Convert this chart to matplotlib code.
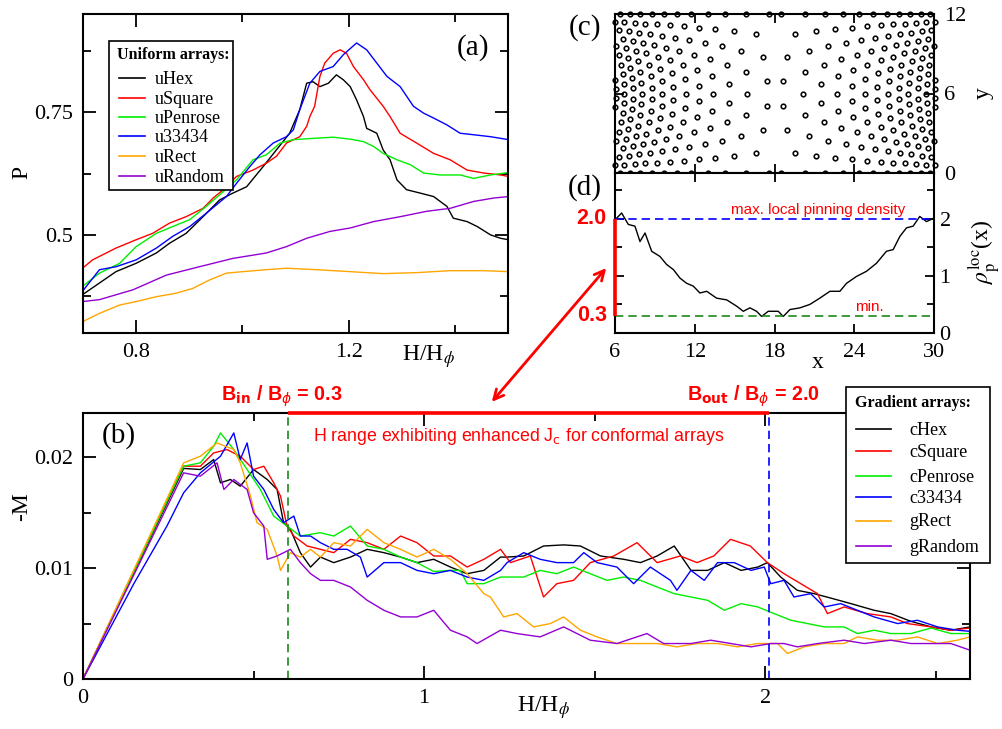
import numpy as np
import matplotlib
matplotlib.use('Agg')
import matplotlib.pyplot as plt
from matplotlib.patches import Rectangle
from matplotlib.ticker import MultipleLocator, FuncFormatter

# ---------------- data ----------------
uHex_H = [0.699,0.762,0.8,0.838,0.863,0.894,0.926,0.957,0.982,1.008,1.039,1.064,1.089,1.108,1.121,1.133,1.146,1.162,1.177,1.190,1.203,1.215,1.228,1.234,1.253,1.265,1.278,1.291,1.309,1.335,1.360,1.385,1.397,1.423,1.442,1.467,1.486,1.501]
uHex_P = [0.378,0.425,0.442,0.463,0.483,0.503,0.537,0.571,0.585,0.598,0.639,0.673,0.707,0.755,0.809,0.812,0.802,0.809,0.826,0.816,0.802,0.775,0.741,0.717,0.707,0.673,0.653,0.612,0.592,0.585,0.578,0.558,0.534,0.527,0.517,0.500,0.493,0.490]
uSquare_H = [0.699,0.718,0.762,0.8,0.831,0.863,0.894,0.926,0.945,0.964,0.989,1.020,1.045,1.064,1.083,1.108,1.121,1.127,1.136,1.146,1.155,1.171,1.184,1.196,1.209,1.228,1.240,1.265,1.278,1.297,1.328,1.360,1.391,1.423,1.454,1.486,1.501]
uSquare_P = [0.432,0.449,0.473,0.490,0.503,0.524,0.537,0.554,0.575,0.592,0.619,0.632,0.646,0.660,0.687,0.700,0.721,0.741,0.762,0.823,0.850,0.870,0.877,0.870,0.843,0.816,0.796,0.762,0.741,0.707,0.687,0.666,0.653,0.632,0.626,0.622,0.619]
uPenrose_H = [0.699,0.731,0.769,0.8,0.838,0.869,0.901,0.932,0.964,0.989,1.020,1.045,1.071,1.096,1.140,1.171,1.203,1.228,1.247,1.265,1.291,1.316,1.341,1.372,1.410,1.435,1.467,1.501]
uPenrose_P = [0.395,0.422,0.442,0.476,0.503,0.517,0.531,0.558,0.588,0.612,0.653,0.663,0.687,0.694,0.697,0.699,0.695,0.690,0.680,0.666,0.653,0.643,0.626,0.622,0.622,0.615,0.622,0.627]
u33434_H = [0.699,0.731,0.762,0.8,0.838,0.869,0.901,0.932,0.970,0.989,1.014,1.033,1.058,1.083,1.096,1.108,1.127,1.146,1.171,1.190,1.215,1.234,1.253,1.272,1.297,1.322,1.341,1.360,1.385,1.410,1.435,1.467,1.501]
u33434_P = [0.385,0.429,0.435,0.449,0.473,0.497,0.517,0.544,0.578,0.605,0.639,0.663,0.687,0.700,0.714,0.755,0.809,0.833,0.843,0.867,0.891,0.877,0.850,0.823,0.802,0.762,0.748,0.738,0.724,0.707,0.704,0.700,0.694]
uRect_H = [0.699,0.731,0.769,0.8,0.838,0.875,0.907,0.938,0.970,1.001,1.045,1.083,1.140,1.203,1.265,1.328,1.391,1.454,1.501]
uRect_P = [0.323,0.340,0.357,0.364,0.374,0.381,0.391,0.408,0.422,0.425,0.429,0.432,0.429,0.425,0.421,0.423,0.427,0.427,0.425]
uRandom_H = [0.699,0.731,0.794,0.857,0.919,0.982,1.045,1.083,1.121,1.165,1.203,1.247,1.297,1.347,1.391,1.435,1.473,1.501]
uRandom_P = [0.364,0.368,0.388,0.418,0.435,0.452,0.463,0.476,0.493,0.507,0.514,0.527,0.537,0.548,0.554,0.568,0.575,0.578]

cHex_H = [0,0.295,0.344,0.383,0.403,0.432,0.461,0.5,0.540,0.569,0.588,0.608,0.637,0.667,0.696,0.735,0.784,0.833,0.882,0.931,0.979,1.028,1.077,1.126,1.175,1.224,1.243,1.292,1.350,1.409,1.458,1.517,1.585,1.634,1.683,1.733,1.782,1.831,1.880,1.929,1.978,2.006,2.045,2.094,2.143,2.192,2.251,2.319,2.368,2.427,2.486,2.544,2.60]
cHex_M = [0,0.0190,0.0189,0.0198,0.0177,0.0180,0.0174,0.0189,0.0180,0.0171,0.0141,0.0135,0.0114,0.0101,0.0110,0.0105,0.0110,0.0117,0.0114,0.0110,0.0105,0.0108,0.0101,0.0095,0.0098,0.0110,0.0110,0.0111,0.0120,0.0121,0.0120,0.0111,0.0108,0.0105,0.0111,0.0120,0.0098,0.0098,0.0105,0.0098,0.0101,0.0105,0.0092,0.0080,0.0077,0.0073,0.0068,0.0062,0.0059,0.0052,0.0047,0.0044,0.0047]
cSquare_H = [0,0.295,0.344,0.383,0.422,0.461,0.5,0.530,0.559,0.579,0.598,0.618,0.657,0.696,0.735,0.784,0.833,0.882,0.931,0.979,1.028,1.077,1.126,1.175,1.224,1.253,1.311,1.350,1.389,1.438,1.487,1.556,1.624,1.683,1.751,1.800,1.849,1.898,1.956,2.006,2.055,2.104,2.153,2.182,2.231,2.299,2.368,2.417,2.486,2.544,2.60]
cSquare_M = [0,0.0192,0.0192,0.0204,0.0207,0.0201,0.0189,0.0192,0.0177,0.0165,0.0138,0.0129,0.0120,0.0117,0.0114,0.0126,0.0123,0.0117,0.0129,0.0123,0.0111,0.0111,0.0101,0.0108,0.0117,0.0105,0.0111,0.0074,0.0086,0.0089,0.0105,0.0111,0.0123,0.0105,0.0111,0.0105,0.0111,0.0126,0.0120,0.0105,0.0095,0.0086,0.0077,0.0059,0.0065,0.0059,0.0056,0.0050,0.0047,0.0044,0.0046]
cPenrose_H = [0,0.295,0.344,0.383,0.403,0.442,0.481,0.520,0.559,0.598,0.637,0.696,0.735,0.784,0.833,0.882,0.931,0.979,1.028,1.077,1.106,1.126,1.175,1.224,1.243,1.292,1.340,1.389,1.438,1.487,1.536,1.585,1.634,1.683,1.733,1.782,1.831,1.880,1.929,1.978,2.026,2.075,2.124,2.173,2.231,2.270,2.319,2.368,2.427,2.486,2.544,2.60]
cPenrose_M = [0,0.0192,0.0195,0.0210,0.0222,0.0207,0.0189,0.0171,0.0147,0.0138,0.0129,0.0132,0.0129,0.0138,0.0120,0.0117,0.0110,0.0105,0.0097,0.0098,0.0098,0.0086,0.0086,0.0092,0.0092,0.0092,0.0098,0.0095,0.0101,0.0095,0.0089,0.0092,0.0089,0.0083,0.0077,0.0074,0.0071,0.0062,0.0068,0.0065,0.0059,0.0053,0.0050,0.0047,0.0047,0.0041,0.0044,0.0041,0.0041,0.0046,0.0041,0.0041]
c33434_H = [0,0.149,0.246,0.295,0.344,0.403,0.442,0.461,0.481,0.5,0.530,0.559,0.588,0.618,0.637,0.667,0.696,0.735,0.774,0.813,0.833,0.882,0.931,0.979,1.028,1.077,1.126,1.175,1.224,1.243,1.292,1.340,1.389,1.438,1.468,1.507,1.565,1.614,1.663,1.722,1.741,1.782,1.821,1.860,1.909,1.958,1.997,2.016,2.055,2.084,2.133,2.173,2.221,2.270,2.319,2.388,2.446,2.505,2.563,2.60]
c33434_M = [0,0.0086,0.0138,0.0168,0.0186,0.0201,0.0222,0.0198,0.0213,0.0183,0.0171,0.0153,0.0141,0.0147,0.0129,0.0129,0.0123,0.0117,0.0117,0.0110,0.0092,0.0105,0.0105,0.0098,0.0095,0.0098,0.0092,0.0089,0.0098,0.0105,0.0114,0.0108,0.0105,0.0105,0.0114,0.0105,0.0101,0.0086,0.0101,0.0089,0.0080,0.0098,0.0089,0.0105,0.0105,0.0098,0.0101,0.0086,0.0089,0.0074,0.0077,0.0065,0.0068,0.0062,0.0056,0.0050,0.0053,0.0047,0.0044,0.0043]
gRect_H = [0,0.295,0.344,0.393,0.442,0.461,0.491,0.510,0.540,0.569,0.579,0.608,0.637,0.667,0.696,0.735,0.784,0.833,0.882,0.931,0.979,1.028,1.077,1.126,1.175,1.194,1.233,1.272,1.321,1.370,1.409,1.458,1.507,1.565,1.624,1.683,1.741,1.800,1.860,1.919,1.978,2.036,2.065,2.114,2.173,2.231,2.270,2.329,2.388,2.446,2.505,2.563,2.60]
gRect_M = [0,0.0195,0.0201,0.0213,0.0207,0.0195,0.0165,0.0141,0.0135,0.0111,0.0098,0.0114,0.0110,0.0117,0.0110,0.0123,0.0120,0.0135,0.0123,0.0117,0.0110,0.0117,0.0108,0.0095,0.0077,0.0074,0.0056,0.0059,0.0047,0.0050,0.0056,0.0044,0.0038,0.0032,0.0032,0.0032,0.0029,0.0032,0.0032,0.0029,0.0032,0.0032,0.0023,0.0029,0.0032,0.0032,0.0038,0.0035,0.0035,0.0038,0.0032,0.0035,0.0038]
gRandom_H = [0,0.295,0.344,0.393,0.413,0.442,0.481,0.5,0.530,0.540,0.569,0.608,0.637,0.667,0.696,0.735,0.784,0.833,0.882,0.931,0.979,1.028,1.077,1.126,1.155,1.224,1.272,1.340,1.409,1.487,1.565,1.653,1.702,1.782,1.840,1.899,1.958,2.016,2.055,2.094,2.153,2.231,2.290,2.368,2.427,2.486,2.544,2.60]
gRandom_M = [0,0.0186,0.0183,0.0195,0.0171,0.0180,0.0171,0.0150,0.0138,0.0108,0.0111,0.0117,0.0105,0.0095,0.0089,0.0089,0.0083,0.0071,0.0062,0.0056,0.0056,0.0062,0.0044,0.0038,0.0032,0.0044,0.0041,0.0038,0.0047,0.0035,0.0032,0.0041,0.0032,0.0032,0.0035,0.0032,0.0029,0.0032,0.0032,0.0029,0.0032,0.0035,0.0032,0.0035,0.0032,0.0032,0.0032,0.0026]

rho_x = [6.0,6.5,7.0,7.5,7.88,8.26,8.76,9.38,9.88,10.39,10.89,11.39,11.89,12.39,12.9,13.64,14.4,15.15,15.65,16.15,16.65,17.03,17.53,18.28,18.66,19.16,19.91,20.66,21.41,22.17,22.92,23.42,24.17,24.92,25.67,26.42,26.93,27.43,27.93,28.43,28.93,29.43,30.0]
rho_v = [1.98,2.10,1.90,1.87,1.60,1.75,1.43,1.34,1.20,1.11,0.96,0.87,0.82,0.70,0.73,0.61,0.58,0.47,0.38,0.44,0.38,0.29,0.38,0.38,0.29,0.41,0.44,0.50,0.61,0.73,0.73,0.87,0.99,1.08,1.22,1.43,1.46,1.69,1.84,1.87,2.04,1.95,2.01]

# pinning sites of panel (c): upper-left quadrant (x <= 18.05, y >= 6); pattern is mirror symmetric
pin_qx = [17.61,
          17.45,17.15,16.59,15.84,
          15.96,15.84,15.50,14.98,14.31,
          14.59,14.40,14.05,13.56,12.96,
          13.40,13.33,13.11,12.75,12.29,11.75,
          12.29,12.17,11.93,11.59,11.16,10.66,
          11.31,11.26,11.11,10.85,10.52,10.12,9.67,
          10.39,10.30,10.12,9.87,9.55,9.17,8.75,
          9.55,9.51,9.39,9.21,8.96,8.65,8.29,7.90,
          8.75,8.68,8.55,8.35,8.11,7.81,7.48,7.11,
          8.02,7.99,7.90,7.75,7.56,7.32,7.03,6.71,6.37,
          7.32,7.26,7.16,7.01,6.81,6.57,6.30,6.00,
          6.67,6.64,6.57,6.46,6.30,6.11,
          6.04,6.00]
pin_qy = [12.00,
          6.94,8.78,10.48,12.00,
          6.00,7.64,9.22,10.68,12.00,
          6.73,8.18,9.56,10.84,12.00,
          6.00,7.32,8.60,9.82,10.96,12.00,
          6.60,7.79,8.94,10.03,11.06,12.00,
          6.00,7.10,8.18,9.22,10.21,11.14,12.00,
          6.51,7.52,8.50,9.45,10.36,11.21,12.00,
          6.00,6.94,7.87,8.78,9.65,10.48,11.27,12.00,
          6.44,7.32,8.18,9.02,9.82,10.59,11.32,12.00,
          6.00,6.83,7.64,8.44,9.22,9.97,10.68,11.36,12.00,
          6.39,7.16,7.93,8.67,9.40,10.10,10.76,11.40,
          6.00,6.73,7.46,8.18,8.88,9.56,
          6.35,7.04]
pin_x_center, pin_y_center = 18.05, 6.0

h_in, h_out = 0.6, 2.01
rho_max, rho_min = 2.0, 0.3

uniform_labels = ['uHex', 'uSquare', 'uPenrose', 'u33434', 'uRect', 'uRandom']
gradient_labels = ['cHex', 'cSquare', 'cPenrose', 'c33434', 'gRect', 'gRandom']
colors = ['#000000', '#ff0000', '#00ee00', '#0000ff', '#ffa500', '#9400d3']

# mirror the quadrant into the full array
qx = np.array(pin_qx); qy = np.array(pin_qy)
upper = qy > pin_y_center + 0.01
hx = np.concatenate([qx, qx[upper]])
hy = np.concatenate([qy, 2*pin_y_center - qy[upper]])
pin_x = np.concatenate([hx, 2*pin_x_center - hx])
pin_y = np.concatenate([hy, hy])

# ---------------- layout ----------------
W, H = 1002, 729
fig = plt.figure(figsize=(W/100, H/100), dpi=100)
plt.rcParams['font.family'] = ['Liberation Serif', 'DejaVu Serif']
plt.rcParams['mathtext.fontset'] = 'stix'

def box(l, t, r, b):
    return [l/W, 1 - b/H, (r - l)/W, (b - t)/H]

def fx(x): return x/W
def fy(y): return 1 - y/H

gfmt = FuncFormatter(lambda v, p: '%g' % round(v, 6))

def style(ax, maj, mnr, pad):
    for sp in ax.spines.values():
        sp.set_linewidth(1.5)
    ax.tick_params(which='both', direction='in', top=True, right=True, width=1.3, labelsize=16, pad=pad)
    ax.tick_params(which='major', length=maj)
    ax.tick_params(which='minor', length=mnr)

# Panel (a)
ax_a = fig.add_axes(box(83, 14, 508, 333))
for Hs, Ps, c in zip([uHex_H, uSquare_H, uPenrose_H, u33434_H, uRect_H, uRandom_H],
                     [uHex_P, uSquare_P, uPenrose_P, u33434_P, uRect_P, uRandom_P], colors):
    ax_a.plot(Hs, Ps, color=c, lw=1.0)
ax_a.set_xlim(0.7, 1.5); ax_a.set_ylim(0.3, 0.95)
ax_a.xaxis.set_major_locator(MultipleLocator(0.4)); ax_a.xaxis.set_minor_locator(MultipleLocator(0.2))
ax_a.yaxis.set_major_locator(MultipleLocator(0.25)); ax_a.yaxis.set_minor_locator(MultipleLocator(0.125))
ax_a.xaxis.set_major_formatter(gfmt); ax_a.yaxis.set_major_formatter(gfmt)
style(ax_a, 9.4, 5.8, 7)

# Panel (b)
ax_b = fig.add_axes(box(83, 413, 970, 679))
for Hs, Ms, c in zip([cHex_H, cSquare_H, cPenrose_H, c33434_H, gRect_H, gRandom_H],
                     [cHex_M, cSquare_M, cPenrose_M, c33434_M, gRect_M, gRandom_M], colors):
    ax_b.plot(Hs, Ms, color=c, lw=1.0)
ax_b.set_xlim(0, 2.6); ax_b.set_ylim(0, 0.024)
ax_b.xaxis.set_major_locator(MultipleLocator(1)); ax_b.xaxis.set_minor_locator(MultipleLocator(0.5))
ax_b.yaxis.set_major_locator(MultipleLocator(0.01)); ax_b.yaxis.set_minor_locator(MultipleLocator(0.005))
ax_b.xaxis.set_major_formatter(gfmt); ax_b.yaxis.set_major_formatter(gfmt)
style(ax_b, 9.4, 5.8, 7)
ax_b.axvline(h_in, color='#1a8a1a', lw=1.2, ls=(0, (5, 3)))
ax_b.axvline(h_out, color='#0000ff', lw=1.2, ls=(0, (5, 3)))
ax_b.plot([h_in, h_out], [0.024, 0.024], color='red', lw=2.6, clip_on=False, zorder=6, solid_capstyle='butt')

# Panel (c)
ax_c = fig.add_axes(box(615, 14, 934, 173))
ax_c.plot(pin_x, pin_y, ls='none', marker='o', ms=3.3, mfc='white', mec='black', mew=1.15, clip_on=False, zorder=1)
ax_c.set_xlim(6, 30); ax_c.set_ylim(0, 12)
ax_c.xaxis.set_major_locator(MultipleLocator(6)); ax_c.yaxis.set_major_locator(MultipleLocator(6))
style(ax_c, 6.5, 4, 7)
ax_c.tick_params(labelbottom=False, labelleft=False, labelright=True)

# Panel (d)
ax_d = fig.add_axes(box(615, 173, 934, 333))
ax_d.plot(rho_x, rho_v, color='black', lw=1.0)
ax_d.axhline(rho_max, color='#0000ff', lw=1.2, ls=(0, (5, 3)))
ax_d.axhline(rho_min, color='#1a8a1a', lw=1.2, ls=(0, (5, 3)))
ax_d.plot([6, 6], [rho_min, rho_max], color='red', lw=2.6, clip_on=False, zorder=6, solid_capstyle='butt')
ax_d.set_xlim(6, 30); ax_d.set_ylim(0, 2.8)
ax_d.xaxis.set_major_locator(MultipleLocator(6))
ax_d.yaxis.set_major_locator(MultipleLocator(1)); ax_d.yaxis.set_minor_locator(MultipleLocator(0.5))
style(ax_d, 6.5, 5, 3)
ax_d.tick_params(labelleft=False, labelright=True)
ax_d.tick_params(axis='x', pad=7.5)
ax_d.tick_params(axis='y', pad=4)
ax_d.annotate('2.0', xy=(6, rho_max), xytext=(-6, 0), textcoords='offset points', ha='right', va='center',
              color='red', fontsize=15.5, fontweight='bold', family='Liberation Sans', annotation_clip=False)
ax_d.annotate('0.3', xy=(6, rho_min), xytext=(-6, 0), textcoords='offset points', ha='right', va='center',
              color='red', fontsize=15.5, fontweight='bold', family='Liberation Sans', annotation_clip=False)

# ---------------- text in figure pixels ----------------
def T(x, y, s, **kw):
    fig.text(fx(x), fy(y), s, **kw)

T(22, 172, 'P', rotation=90, ha='center', va='center', fontsize=17)
T(22, 507, '-M', rotation=90, ha='center', va='center', fontsize=17)
T(428, 357, r'H/H$_{\phi}$', ha='center', va='center', fontsize=17, math_fontfamily='stix')
T(543, 708, r'H/H$_{\phi}$', ha='center', va='center', fontsize=17, math_fontfamily='stix')
T(818, 362, 'x', ha='center', va='center', fontsize=17)
T(983, 93, 'y', rotation=90, ha='center', va='center', fontsize=17)
T(985, 252, r'$\rho_{\rm p}^{\rm loc}$(x)', rotation=90, ha='center', va='center', fontsize=17, math_fontfamily='stix')
T(473, 48, '(a)', ha='center', va='center', fontsize=21)
T(119, 436, '(b)', ha='center', va='center', fontsize=21)
T(585, 28, '(c)', ha='center', va='center', fontsize=21)
T(585, 188, '(d)', ha='center', va='center', fontsize=21)

T(221, 401, r'B$_{\mathbf{in}}$ / B$_{\phi}$ = 0.3', ha='left', va='baseline', fontsize=14.2, color='red',
  family='Liberation Sans', fontweight='bold', math_fontfamily='dejavusans')
T(687, 401, r'B$_{\mathbf{out}}$ / B$_{\phi}$ = 2.0', ha='left', va='baseline', fontsize=14.2, color='red',
  family='Liberation Sans', fontweight='bold', math_fontfamily='dejavusans')
T(313, 441, r'H range exhibiting enhanced J$_{\rm c}$ for conformal arrays', ha='left', va='baseline',
  fontsize=12.8, color='red', family='Liberation Sans', math_fontfamily='dejavusans')
T(731, 214, 'max. local pinning density', ha='left', va='baseline', fontsize=11, color='red', family='Liberation Sans')
T(855, 311, 'min.', ha='left', va='baseline', fontsize=11, color='red', family='Liberation Sans')

ov = fig.add_axes([0, 0, 1, 1], zorder=10)
ov.set_xlim(0, W); ov.set_ylim(H, 0); ov.axis('off'); ov.patch.set_visible(False)
ov.annotate('', xy=(608, 266), xytext=(490, 404),
            arrowprops=dict(arrowstyle='<->,head_length=0.7,head_width=0.35', color='red', lw=2))

# legends (drawn in figure pixels)
def legend_box(l, t, r, b, title, title_xy, labels, ys, hx0, hx1, tx):
    ov.add_patch(Rectangle((l, t), r - l, b - t, facecolor='white', edgecolor='black', lw=1.2, zorder=1))
    ov.text(title_xy[0], title_xy[1], title, ha='left', va='baseline', fontsize=11.5, fontweight='bold',
            family='Liberation Serif', zorder=2)
    for lab, yy, c in zip(labels, ys, colors):
        ov.plot([hx0, hx1], [yy, yy], color=c, lw=1.2, zorder=2)
        ov.text(tx, yy + 5.5, lab, ha='left', va='baseline', fontsize=13, family='Liberation Serif', zorder=2)

legend_box(109, 41, 233, 190, 'Uniform arrays:', (117, 59), uniform_labels,
           [78, 98, 117, 136, 156, 176], 119, 145, 155)
legend_box(846, 387, 990, 563, 'Gradient arrays:', (855, 407), gradient_labels,
           [429, 451, 476, 497, 521, 546], 856, 891, 909)

fig.savefig('out.png', dpi=100)
